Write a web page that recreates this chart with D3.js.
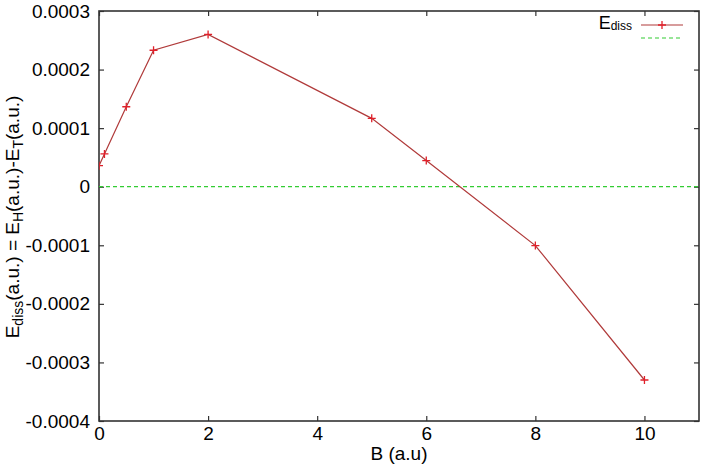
<!DOCTYPE html>
<html>
<head>
<meta charset="utf-8">
<script src="https://cdn.jsdelivr.net/npm/d3@7"></script>
<style>
  body { margin: 0; background: #fff; }
  svg { font-family: "Liberation Sans", Arial, sans-serif; }
</style>
</head>
<body>
<div id="chart"></div>
<script>
// B values (a.u) and dissociation energy
const bValues = [0, 0.1, 0.5, 1, 2, 5, 6, 8, 10];
const eDiss = [0.000036, 0.0000560, 0.0001365, 0.0002330, 0.0002600, 0.0001167, 0.0000446, -0.0001005, -0.0003300];
const xTicks = [0, 2, 4, 6, 8, 10];
const yTicks = [-0.0004, -0.0003, -0.0002, -0.0001, 0, 0.0001, 0.0002, 0.0003];

const width = 705, height = 465;
const margin = { top: 11, right: 6, bottom: 44, left: 99 };

const svg = d3.select("#chart").append("svg")
  .attr("width", width)
  .attr("height", height);

const x = d3.scaleLinear().domain([0, 11]).range([margin.left, width - margin.right]);
const y = d3.scaleLinear().domain([-0.0004, 0.0003]).range([height - margin.bottom, margin.top]);

const fmtY = (d) => d === 0 ? "0" : d3.format(".4f")(d).replace("−", "-");

/* axes with inward ticks, mirrored on top and right like gnuplot */
const axisStyle = (g) => {
  g.select(".domain").remove();
  g.selectAll(".tick line").attr("stroke", "#333").attr("stroke-width", 1.2);
  g.selectAll(".tick text").attr("fill", "#000").attr("font-size", 19);
};

svg.append("g")
  .attr("transform", `translate(0,${y.range()[0]})`)
  .call(d3.axisBottom(x).tickValues(xTicks).tickSize(-5).tickPadding(6).tickFormat(d3.format("d")))
  .call(axisStyle);
svg.append("g")
  .attr("transform", `translate(0,${y.range()[1]})`)
  .call(d3.axisTop(x).tickValues(xTicks).tickSize(-5).tickFormat(""))
  .call(axisStyle);
svg.append("g")
  .attr("transform", `translate(${x.range()[0]},0)`)
  .call(d3.axisLeft(y).tickValues(yTicks).tickSize(-5).tickPadding(9).tickFormat(fmtY))
  .call(axisStyle);
svg.append("g")
  .attr("transform", `translate(${x.range()[1]},0)`)
  .call(d3.axisRight(y).tickValues(yTicks).tickSize(-5).tickFormat(""))
  .call(axisStyle);

/* frame */
svg.append("rect")
  .attr("x", x.range()[0])
  .attr("y", y.range()[1])
  .attr("width", x.range()[1] - x.range()[0])
  .attr("height", y.range()[0] - y.range()[1])
  .attr("fill", "none")
  .attr("stroke", "#333")
  .attr("stroke-width", 1.6);

svg.append("clipPath").attr("id", "plotclip")
  .append("rect")
  .attr("x", x.range()[0])
  .attr("y", y.range()[1])
  .attr("width", x.range()[1] - x.range()[0])
  .attr("height", y.range()[0] - y.range()[1]);

const plot = svg.append("g").attr("clip-path", "url(#plotclip)");

/* zero line */
plot.append("line")
  .attr("x1", x(0)).attr("x2", x(11))
  .attr("y1", y(0)).attr("y2", y(0))
  .attr("stroke", "#33cc33")
  .attr("stroke-width", 1.2)
  .attr("stroke-dasharray", "4,3");

const data = bValues.map((b, i) => ({ b: b, e: eDiss[i] }));

const line = d3.line().x((d) => x(d.b)).y((d) => y(d.e));
plot.append("path")
  .datum(data)
  .attr("d", line)
  .attr("fill", "none")
  .attr("stroke", "#b03a3a")
  .attr("stroke-width", 1.2);

const plus = (cx, cy, s) => `M${cx - s},${cy}H${cx + s}M${cx},${cy - s}V${cy + s}`;
plot.selectAll(".pt")
  .data(data)
  .enter().append("path")
  .attr("class", "pt")
  .attr("d", (d) => plus(x(d.b), y(d.e), 4))
  .attr("stroke", "#e0202a")
  .attr("stroke-width", 1.3);

/* legend */
const leg = svg.append("g");
const legText = leg.append("text")
  .attr("x", 632).attr("y", 29)
  .attr("text-anchor", "end")
  .attr("font-size", 18);
legText.append("tspan").text("E");
legText.append("tspan").attr("font-size", 12).attr("dy", 1).text("diss");
leg.append("line")
  .attr("x1", 641).attr("x2", 683).attr("y1", 25).attr("y2", 25)
  .attr("stroke", "#b03a3a").attr("stroke-width", 1.2);
leg.append("path")
  .attr("d", plus(662, 25, 4))
  .attr("stroke", "#e0202a").attr("stroke-width", 1.3);
leg.append("line")
  .attr("x1", 641).attr("x2", 683).attr("y1", 38).attr("y2", 38)
  .attr("stroke", "#33cc33").attr("stroke-width", 1.2)
  .attr("stroke-dasharray", "4,3");

/* axis titles */
svg.append("text")
  .attr("x", (x.range()[0] + x.range()[1]) / 2)
  .attr("y", 460)
  .attr("text-anchor", "middle")
  .attr("font-size", 19)
  .text("B (a.u)");

const yl = svg.append("text")
  .attr("transform", `translate(19,${217}) rotate(-90)`)
  .attr("text-anchor", "middle")
  .attr("font-size", 19);
yl.append("tspan").text("E");
yl.append("tspan").attr("font-size", 14).attr("dy", 4).text("diss");
yl.append("tspan").attr("dy", -4).text("(a.u.)  = E");
yl.append("tspan").attr("font-size", 14).attr("dy", 4).text("H");
yl.append("tspan").attr("dy", -4).text("(a.u.)-E");
yl.append("tspan").attr("font-size", 14).attr("dy", 4).text("T");
yl.append("tspan").attr("dy", -4).text("(a.u.)");
</script>
</body>
</html>
